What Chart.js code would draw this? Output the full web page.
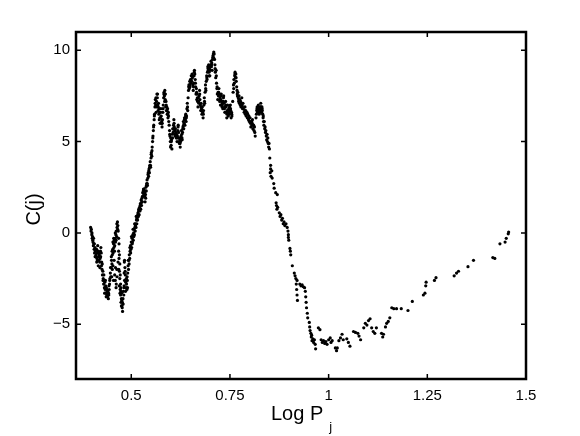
<!DOCTYPE html>
<html>
<head>
<meta charset="utf-8">
<script src="https://cdn.jsdelivr.net/npm/chart.js@4.4.1/dist/chart.umd.min.js"></script>
<style>
  html, body { margin: 0; padding: 0; background: #fff; }
  canvas { display: block; }
</style>
</head>
<body>
<canvas id="c" width="580" height="436"></canvas>
<script>
// axis ticks
const xTicks = [0.5, 0.75, 1, 1.25, 1.5]
const xLabels = ['0.5', '0.75', '1', '1.25', '1.5']
const yTicks = [-5, 0, 5, 10]
const yLabels = ['\u22125', '0', '5', '10']

// points, [Log P_j, C(j)]
const leftDip = [
  [0.397,0.3],[0.398,0.1],[0.399,0.2],[0.400,-0.1],[0.401,-0.3],[0.402,-0.2],[0.403,-0.5],[0.404,-0.7],
  [0.405,-0.6],[0.406,-0.9],[0.407,-1.1],[0.408,-0.8],[0.409,-1.0],[0.410,-1.3],[0.411,-1.2],[0.412,-0.9],
  [0.413,-1.4],[0.414,-1.1],[0.415,-0.7],[0.416,-1.0],[0.417,-1.3],[0.418,-1.5],[0.419,-1.2],[0.420,-1.6],
  [0.421,-1.4],[0.422,-1.0],[0.423,-0.8],[0.424,-1.1],[0.425,-1.6],[0.426,-2.0],[0.427,-2.3],[0.428,-2.1],
  [0.429,-2.5],[0.430,-2.8],[0.431,-2.6],[0.432,-3.0],[0.433,-2.7],[0.434,-3.1],[0.435,-2.9],[0.436,-3.3],
  [0.437,-3.0],[0.438,-3.4],[0.439,-3.2],[0.440,-3.5],[0.441,-3.3],[0.442,-3.6],[0.443,-3.4],
  [0.444,-3.1],[0.445,-2.8],[0.446,-2.5],[0.447,-2.2],[0.448,-2.4],[0.449,-1.9],[0.450,-1.5],[0.451,-1.7],
  [0.452,-1.2],[0.453,-0.9],[0.454,-1.1],[0.455,-0.6],[0.456,-0.8],[0.457,-0.4],[0.458,-0.7],[0.459,-0.3],
  [0.460,-0.5],[0.461,-0.1],[0.462,0.1],[0.463,-0.2],[0.464,0.3],[0.465,0.6],[0.466,0.4],
  [0.452,-2.0],[0.455,-2.6],[0.458,-2.3],[0.460,-1.9],[0.462,-2.8],[0.464,-2.4],
  [0.467,0.1],[0.468,-0.3],[0.469,-0.6],[0.468,-1.0],[0.469,-1.4],[0.470,-1.2],[0.471,-1.7],[0.470,-2.1],
  [0.471,-2.5],[0.472,-2.3],[0.473,-2.8],[0.472,-3.1],[0.473,-3.4],[0.474,-3.2],[0.475,-3.6],[0.474,-3.8],
  [0.475,-4.0],[0.476,-3.7],[0.477,-4.1],[0.478,-4.3],
  [0.479,-3.6],[0.480,-3.2],[0.481,-3.4],[0.482,-2.9],[0.483,-2.6],[0.482,-2.2],[0.484,-1.9],[0.483,-1.5],
  [0.485,-2.3],[0.486,-2.7],[0.487,-3.0],[0.488,-2.8],[0.489,-3.1],[0.490,-2.6],[0.491,-2.2],[0.492,-1.8],
  [0.493,-2.0],[0.494,-1.5],[0.495,-1.2],[0.496,-1.4],[0.497,-1.0],[0.498,-0.7],[0.499,-0.9],[0.500,-0.5],
  [0.501,-0.8],[0.502,-0.3],[0.503,-0.5],[0.504,-0.1],[0.505,-0.4],[0.506,0.0],[0.507,0.2],[0.508,-0.1],
  [0.509,0.3],[0.510,0.1],[0.511,0.5],[0.512,0.3],[0.513,0.7],[0.514,0.5],[0.515,0.9]
]

const leftDip2 = [
  [0.4005,0.0],[0.4025,-0.4],[0.4045,-0.3],[0.4065,-0.6],[0.4085,-1.3],[0.4105,-0.9],[0.4125,-1.6],[0.4145,-1.5],
  [0.4165,-1.8],[0.4185,-1.1],[0.4205,-1.9],[0.4225,-1.3],[0.4245,-1.8],[0.4265,-1.7],[0.4285,-2.6],[0.4305,-2.3],
  [0.4325,-3.3],[0.4345,-2.6],[0.4365,-3.5],[0.4385,-3.1],[0.4405,-3.2],[0.4425,-3.3],[0.4435,-2.9],[0.4455,-2.6],
  [0.4475,-1.9],[0.4495,-1.3],[0.4515,-1.0],[0.4535,-0.5],[0.4555,-0.3],[0.4575,-1.0],[0.4595,0.0],[0.4615,-0.4],
  [0.4635,0.5],[0.4655,0.2],[0.4505,-2.4],[0.4535,-1.8],[0.4565,-1.5],[0.4595,-2.6],[0.4615,-3.0],[0.4635,-2.0],
  [0.4665,-1.6],[0.4685,-2.0],[0.4695,-2.9],[0.4715,-3.3],[0.4735,-3.0],[0.4755,-3.3],[0.4765,-4.0],[0.4775,-3.8],
  [0.4795,-3.9],[0.4815,-3.0],[0.4825,-1.6],[0.4845,-2.1],[0.4855,-3.2],[0.4875,-2.5],[0.4895,-2.4],[0.4905,-3.0],
  [0.4925,-1.5],[0.4945,-1.7],[0.4965,-0.8],[0.4985,-1.1],[0.5005,-0.2],[0.5025,-0.6],[0.5045,0.2],[0.5065,-0.2],
  [0.5085,0.5],[0.5105,0.4],[0.5125,0.9],[0.5145,0.8]
]

const rise = [
  [0.516,0.7],[0.517,1.1],[0.518,0.9],[0.519,1.3],[0.520,1.0],[0.521,1.4],[0.522,1.2],[0.523,1.6],
  [0.524,1.3],[0.525,1.8],[0.526,1.5],[0.527,1.9],[0.528,1.7],[0.529,2.2],[0.530,2.0],[0.531,2.4],
  [0.532,2.1],[0.533,2.3],[0.534,2.0],[0.535,1.7],[0.536,2.1],[0.537,2.5],[0.538,2.3],[0.539,2.7],
  [0.540,2.9],[0.541,2.6],[0.542,3.0],[0.543,3.3],[0.544,3.1],[0.545,3.5],[0.546,3.3],[0.547,3.7],
  [0.548,3.9],[0.549,3.6],[0.550,4.1],[0.551,4.4],[0.552,4.2],[0.553,4.7],[0.554,5.0],[0.555,5.3],
  [0.556,5.6],[0.557,5.9],[0.558,6.2],[0.559,6.5]
]

const rise2 = [
  [0.5165,1.0],[0.5185,1.2],[0.5205,1.3],[0.5225,1.5],[0.5245,1.6],[0.5265,1.7],[0.5285,2.0],[0.5305,2.3],
  [0.5325,2.4],[0.5345,2.2],[0.5365,1.9],[0.5385,2.6],[0.5405,2.7],[0.5425,3.2],[0.5445,3.4],[0.5465,3.6],
  [0.5485,3.7],[0.5505,4.3],[0.5525,4.5],[0.5545,5.2],[0.5565,5.8],[0.5585,6.4]
]

const peaks = [
  [0.560,6.9],[0.561,7.3],[0.562,7.0],[0.563,6.6],[0.564,7.2],[0.565,7.6],[0.566,7.4],[0.567,7.0],
  [0.568,6.7],[0.569,7.1],[0.570,6.5],[0.571,6.2],[0.572,6.6],[0.573,6.0],[0.574,6.3],[0.575,6.8],
  [0.576,6.4],[0.577,6.1],[0.578,5.8],[0.579,6.2],[0.580,6.6],[0.581,7.0],
  [0.582,7.4],[0.583,7.7],[0.584,7.5],[0.585,7.8],[0.586,7.3],[0.587,6.9],[0.588,7.2],[0.589,6.7],
  [0.590,6.9],[0.591,6.5],[0.592,6.8],[0.593,6.3],[0.594,6.6],[0.595,6.1],[0.596,5.9],
  [0.597,5.6],[0.598,5.3],[0.599,5.0],[0.600,5.2],[0.601,4.8],[0.602,5.1],[0.603,4.6],[0.604,5.4],
  [0.605,5.7],[0.606,5.5],[0.607,5.9],[0.608,6.2],[0.609,5.8],[0.610,5.6],[0.611,5.3],[0.612,5.7],
  [0.613,5.5],[0.614,5.2],[0.615,5.4],[0.616,5.0],[0.617,5.3],[0.618,5.6],[0.619,5.9],[0.620,5.5],
  [0.621,5.2],[0.622,4.9],[0.623,5.1],[0.624,4.7],[0.625,5.0],[0.626,5.3],[0.627,5.6],[0.628,5.4],
  [0.629,5.1],[0.630,5.5],[0.631,5.8],[0.632,6.1],[0.633,5.7],[0.634,6.0],[0.635,6.3],[0.636,5.9],
  [0.637,6.2],[0.638,6.5],[0.639,6.1],[0.640,6.4],
  [0.641,6.8],[0.642,7.1],[0.643,6.7],[0.644,7.4],[0.645,7.8],[0.646,8.1],[0.647,7.9],[0.648,8.3],
  [0.649,8.0],[0.650,8.4],[0.651,8.2],[0.652,8.6],[0.653,8.3],[0.654,8.7],[0.655,8.5],[0.656,8.1],
  [0.657,7.8],[0.658,8.2],[0.659,8.6],[0.660,8.9],[0.661,8.7],[0.662,8.4],
  [0.663,8.0],[0.664,7.6],[0.665,7.9],[0.666,7.3],[0.667,7.6],[0.668,7.2],[0.669,6.9],[0.670,7.4],
  [0.671,7.1],[0.672,7.5],[0.673,7.8],[0.674,7.3],[0.675,7.0],[0.676,6.7],[0.677,7.1],[0.678,6.8],
  [0.679,6.5],[0.680,6.9],[0.681,6.6],[0.682,6.3],[0.683,6.7],[0.684,7.0],[0.685,7.4],[0.686,7.1],
  [0.687,7.7],[0.688,8.1],[0.689,7.8],[0.690,8.3],[0.691,8.6],[0.692,8.4],[0.693,8.8],[0.694,9.1],
  [0.695,8.9],[0.696,9.2],[0.697,8.8],[0.698,9.0],[0.699,8.6],[0.700,8.9],[0.701,9.2],[0.702,9.4],
  [0.703,9.1],[0.704,9.3],[0.705,8.9],[0.706,9.5],[0.707,9.7],[0.708,9.8],[0.709,9.9],[0.710,9.8],
  [0.711,9.5],[0.712,9.2],[0.713,8.8],[0.714,8.5],[0.715,8.9],[0.716,8.2],[0.717,7.9],[0.718,7.6],
  [0.719,7.3],[0.720,7.7],[0.721,7.5],[0.722,7.9],[0.723,7.6],[0.724,7.2],[0.725,7.4],[0.726,7.0],
  [0.727,7.3],[0.728,7.6],[0.729,7.2],[0.730,6.9],[0.731,7.1],[0.732,6.8],[0.733,7.2],[0.734,7.5],
  [0.735,7.1],[0.736,6.8],[0.737,6.6],[0.738,6.9],[0.739,7.2],[0.740,6.9],[0.741,6.6],[0.742,6.3],
  [0.743,6.7],[0.744,7.0],[0.745,6.7],[0.746,6.4],[0.747,6.8],[0.748,6.5],[0.749,6.9],[0.750,6.6],
  [0.751,7.0],[0.752,6.7],[0.753,6.3],[0.754,6.6],[0.755,6.4],
  [0.757,7.2],[0.758,7.7],[0.759,8.1],[0.760,8.4],[0.761,8.2],[0.762,8.6],[0.763,8.8],[0.764,8.5],
  [0.765,8.7],[0.766,8.3],[0.767,8.0],[0.768,7.8],[0.769,7.5],[0.770,7.7],
  [0.771,7.4],[0.772,7.2],[0.773,7.5],[0.774,7.1],[0.775,7.3],[0.776,7.0],[0.777,7.2],[0.778,6.9],
  [0.779,7.1],[0.780,7.4],[0.781,7.0],[0.782,6.8],[0.783,7.1],[0.784,6.8],
  [0.786,6.6],[0.788,6.9],[0.789,6.5],[0.790,6.7],[0.791,6.4],[0.793,6.6],[0.794,6.3],[0.795,6.5],
  [0.797,6.2],[0.798,6.4],[0.799,6.1],[0.801,6.3],[0.802,6.0],[0.803,5.8],[0.805,6.1],[0.806,5.9],
  [0.807,6.2],[0.808,5.7],[0.810,5.9],[0.811,5.6],[0.812,5.8],[0.813,5.5],[0.814,5.3],
  [0.816,6.3],[0.817,6.5],[0.818,6.7],[0.819,6.9],[0.820,6.6],[0.821,6.8],[0.822,7.0],[0.823,6.7],
  [0.824,6.5],[0.825,6.8],[0.826,6.6],[0.827,6.9],[0.828,7.1],[0.829,6.8],[0.830,6.6],[0.831,6.9],
  [0.832,6.7],[0.833,6.5],[0.834,6.3],[0.835,6.1]
]

const peaks2 = [
  [0.5605,7.1],[0.5625,7.4],[0.5645,6.9],[0.5665,7.6],[0.5685,6.9],[0.5705,6.8],[0.5725,6.3],[0.5745,6.6],
  [0.5765,6.0],[0.5785,6.0],[0.5805,6.8],[0.5825,7.6],[0.5845,7.2],[0.5865,7.6],[0.5885,7.0],[0.5905,6.7],
  [0.5925,6.5],[0.5945,6.4],[0.5975,5.4],[0.5995,4.7],[0.6015,5.0],[0.6045,5.2],[0.6065,5.7],[0.6085,6.0],
  [0.6105,5.4],[0.6135,5.3],[0.6165,5.2],[0.6185,5.8],[0.6215,5.0],[0.6235,4.9],[0.6255,5.2],[0.6285,5.2],
  [0.6305,5.7],[0.6325,5.9],[0.6345,6.2],[0.6375,6.4],[0.6395,6.3],[0.6425,6.9],[0.6455,8.0],[0.6485,8.1],
  [0.6515,8.4],[0.6545,8.6],[0.6575,8.0],[0.6595,8.8],[0.6625,8.2],[0.6655,7.7],[0.6675,7.4],[0.6705,7.2],
  [0.6735,7.6],[0.6765,6.9],[0.6795,6.7],[0.6825,6.5],[0.6855,7.2],[0.6885,7.9],[0.6915,8.5],[0.6945,9.0],
  [0.6975,8.6],[0.7005,9.1],[0.7035,9.2],[0.7065,9.6],[0.7085,9.6],[0.7125,9.0],[0.7155,8.6],[0.7175,8.0],
  [0.7215,7.7],[0.7245,7.3],[0.7275,7.5],[0.7305,7.0],[0.7335,7.4],[0.7365,6.9],[0.7395,7.0],[0.7425,6.5],
  [0.7455,6.6],[0.7485,6.7],[0.7515,6.8],[0.7545,6.5],[0.7595,7.9],[0.7625,8.7],[0.7655,8.5],[0.7685,7.6],
  [0.7725,7.3],[0.7755,7.1],[0.7785,7.0],[0.7815,6.9],[0.7875,6.7],[0.7925,6.5],[0.7975,6.3],[0.8015,6.1],
  [0.8065,6.0],[0.8105,5.8],[0.8185,6.8],[0.8215,6.9],[0.8255,6.7],[0.8285,6.9],[0.8315,6.8],[0.8345,6.4]
]

const fall = [
  [0.836,5.9],[0.837,6.1],[0.838,5.7],[0.839,5.8],[0.840,5.5],[0.841,5.6],[0.842,5.3],[0.843,5.1],
  [0.844,5.4],[0.845,5.0],[0.846,5.2],[0.847,4.9],[0.848,4.7],[0.849,4.9],[0.850,4.6],[0.851,4.1],
  [0.853,3.7],[0.853,3.5],[0.852,3.3],[0.854,3.1],[0.856,3.4],[0.857,3.0],[0.861,2.7],[0.862,2.45],
  [0.866,2.2],[0.870,2.1],[0.867,1.65],[0.868,1.5],[0.869,1.3],[0.871,1.4],[0.875,1.1],[0.877,0.9],
  [0.879,1.0],[0.881,0.7],[0.883,0.8],[0.885,0.5],[0.887,0.6],[0.889,0.4],[0.892,0.5],[0.895,0.3],
  [0.897,0.1],[0.898,-0.1],[0.898,-0.25],[0.899,-0.4],[0.902,-0.85],[0.903,-1.0],[0.904,-1.2],[0.908,-1.8],
  [0.913,-2.2],[0.915,-2.35],[0.917,-2.5],[0.920,-2.6],[0.918,-2.8],[0.919,-3.1],[0.920,-3.4],[0.921,-3.7],
  [0.927,-2.8],[0.930,-2.9],[0.933,-2.85],[0.936,-2.95],[0.939,-3.0],[0.941,-3.2],[0.942,-3.5],[0.943,-3.8],
  [0.944,-4.1],[0.946,-4.4],[0.947,-4.65],[0.951,-4.9],[0.952,-5.15],[0.953,-5.35]
]

const trough = [
  [0.955,-5.5],[0.956,-5.7],[0.957,-5.6],[0.958,-5.9],[0.960,-5.8],[0.962,-6.0],[0.964,-5.85],[0.966,-6.1],
  [0.967,-6.35],[0.974,-5.2],[0.978,-5.3],[0.981,-5.85],[0.984,-6.0],[0.987,-5.9],[0.990,-6.05],[0.993,-5.95],
  [0.996,-6.1],[1.000,-5.85],[1.004,-5.75],[1.006,-6.0],[1.009,-5.9],[1.017,-6.3],[1.020,-6.45],[1.022,-6.3],
  [1.026,-5.9],[1.030,-5.75],[1.034,-5.55],[1.037,-5.85],[1.046,-5.8],[1.050,-6.0],[1.054,-6.2],[1.063,-5.4],
  [1.068,-5.45],[1.074,-5.5],[1.077,-5.65],[1.081,-5.85],[1.089,-5.2],[1.093,-4.95],[1.097,-5.05],[1.101,-4.8],
  [1.105,-4.7],[1.109,-5.2],[1.113,-5.4],[1.117,-5.5],[1.121,-5.2],[1.134,-5.5],[1.137,-5.7],[1.139,-5.55],
  [1.144,-5.15],[1.147,-4.95],[1.151,-4.85],[1.155,-4.65],[1.160,-4.1],[1.165,-4.15],[1.172,-4.15],[1.184,-4.15]
]

const tail = [
  [1.201,-4.25],[1.212,-3.75],[1.240,-3.4],[1.244,-3.3],[1.246,-2.9],[1.247,-2.7],[1.268,-2.6],[1.272,-2.45],
  [1.318,-2.35],[1.324,-2.2],[1.329,-2.1],[1.353,-1.85],[1.367,-1.5],[1.416,-1.35],[1.421,-1.4],[1.434,-0.6],
  [1.447,-0.5],[1.450,-0.3],[1.455,-0.05],[1.456,0.05]
]

const allPoints = [...leftDip, ...leftDip2, ...rise, ...rise2, ...peaks, ...peaks2, ...fall, ...trough, ...tail]

const FONT = '"Liberation Sans", Arial, Helvetica, sans-serif'

// frame, inward ticks and the two axis titles
const frame = {
  id: 'frame',
  afterDraw(chart) {
    const ctx = chart.ctx
    const a = chart.chartArea
    const sx = chart.scales.x
    const sy = chart.scales.y
    ctx.save()
    ctx.strokeStyle = '#000'
    ctx.lineWidth = 1.5
    ctx.beginPath()
    xTicks.forEach(v => {
      const px = sx.getPixelForValue(v)
      ctx.moveTo(px, a.bottom); ctx.lineTo(px, a.bottom - 5)
      ctx.moveTo(px, a.top); ctx.lineTo(px, a.top + 5)
    })
    yTicks.forEach(v => {
      const py = sy.getPixelForValue(v)
      ctx.moveTo(a.left, py); ctx.lineTo(a.left + 5, py)
      ctx.moveTo(a.right, py); ctx.lineTo(a.right - 5, py)
    })
    ctx.stroke()
    ctx.lineWidth = 2.5
    ctx.strokeRect(a.left, a.top, a.right - a.left, a.bottom - a.top)

    ctx.fillStyle = '#000'
    // x title with subscript
    ctx.font = '20px ' + FONT
    ctx.textAlign = 'left'
    ctx.textBaseline = 'alphabetic'
    const main = 'Log P'
    const w = ctx.measureText(main).width
    const x0 = (a.left + a.right) / 2 - 30
    ctx.fillText(main, x0, 420)
    ctx.font = '13px ' + FONT
    ctx.fillText('j', x0 + w + 6, 431)

    // y title
    ctx.font = '20px ' + FONT
    ctx.translate(34, (a.top + a.bottom) / 2 + 4)
    ctx.rotate(-Math.PI / 2)
    ctx.textAlign = 'center'
    ctx.textBaseline = 'middle'
    ctx.fillText('C(j)', 0, 0)
    ctx.restore()
  }
}

new Chart(document.getElementById('c'), {
  type: 'scatter',
  data: {
    datasets: [{
      data: allPoints.map(p => ({ x: p[0], y: p[1] })),
      pointRadius: 1.6,
      pointHoverRadius: 1.6,
      backgroundColor: '#000',
      borderWidth: 0
    }]
  },
  options: {
    responsive: false,
    animation: false,
    devicePixelRatio: 1,
    layout: { padding: { left: 0, top: 32, right: 54, bottom: 0 } },
    plugins: { legend: { display: false }, tooltip: { enabled: false } },
    scales: {
      x: {
        type: 'linear',
        min: 0.36,
        max: 1.5,
        afterBuildTicks: s => { s.ticks = xTicks.map(v => ({ value: v })) },
        afterFit: s => { s.height = 57 },
        grid: { display: false, drawTicks: false },
        border: { display: false },
        ticks: {
          callback: (v, i) => xLabels[i],
          color: '#000',
          font: { size: 15, family: FONT },
          padding: 8,
          maxRotation: 0
        }
      },
      y: {
        min: -8,
        max: 11,
        afterBuildTicks: s => { s.ticks = yTicks.map(v => ({ value: v })) },
        afterFit: s => { s.width = 76 },
        grid: { display: false, drawTicks: false },
        border: { display: false },
        ticks: {
          callback: (v, i) => yLabels[i],
          color: '#000',
          font: { size: 15, family: FONT },
          padding: 6
        }
      }
    }
  },
  plugins: [frame]
})
</script>
</body>
</html>
